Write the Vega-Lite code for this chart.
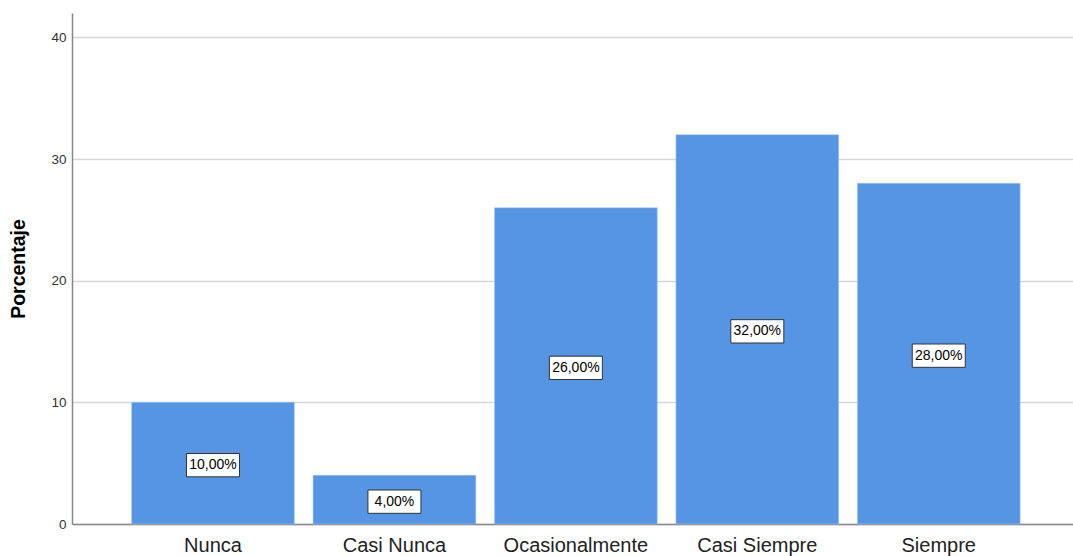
{
  "$schema": "https://vega.github.io/schema/vega-lite/v6.json",
  "width": 1001,
  "height": 511,
  "autosize": "none",
  "padding": {"left": 72, "top": 13, "right": 0, "bottom": 32},
  "background": "white",
  "config": {"view": {"stroke": null}, "font": "Liberation Sans"},
  "data": {
    "values": [
      {"cat": "Nunca", "pct": 10, "label": "10,00%"},
      {"cat": "Casi Nunca", "pct": 4, "label": "4,00%"},
      {"cat": "Ocasionalmente", "pct": 26, "label": "26,00%"},
      {"cat": "Casi Siempre", "pct": 32, "label": "32,00%"},
      {"cat": "Siempre", "pct": 28, "label": "28,00%"}
    ]
  },
  "encoding": {
    "x": {
      "field": "cat",
      "type": "nominal",
      "sort": null,
      "scale": {"paddingInner": 0.103, "paddingOuter": 0.31, "align": 0.53},
      "axis": {
        "title": null,
        "labelAngle": 0,
        "labelFontSize": 20,
        "labelColor": "#222",
        "labelPadding": 11,
        "ticks": false,
        "domainColor": "#888",
        "domainWidth": 1.5,
        "grid": false
      }
    }
  },
  "layer": [
    {
      "mark": {"type": "bar", "color": "#5595E4", "stroke": "#a9c9f2", "strokeWidth": 0.5},
      "encoding": {
        "y": {
          "field": "pct",
          "type": "quantitative",
          "scale": {"domain": [0, 42], "nice": false},
          "axis": {
            "title": "Porcentaje",
            "titleFontSize": 19.5,
            "titleFontWeight": "bold",
            "titleColor": "#000",
            "titlePadding": 22,
            "values": [0, 10, 20, 30, 40],
            "labelFontSize": 13.5,
            "labelColor": "#333",
            "labelPadding": 6,
            "ticks": false,
            "domainColor": "#888",
            "domainWidth": 1.5,
            "grid": true,
            "gridColor": "#d6d6d6",
            "gridWidth": 1.5
          }
        }
      }
    },
    {
      "transform": [{"calculate": "datum.pct / 2", "as": "mid"}],
      "mark": {
        "type": "point",
        "shape": "M-1,-0.44H1V0.44H-1Z",
        "size": 2809,
        "filled": true,
        "fill": "white",
        "fillOpacity": 1,
        "stroke": "#333",
        "strokeWidth": 1,
        "opacity": 1,
        "yOffset": 2
      },
      "encoding": {
        "y": {"field": "mid", "type": "quantitative", "scale": {"domain": [0, 42], "nice": false}}
      }
    },
    {
      "transform": [{"calculate": "datum.pct / 2", "as": "mid"}],
      "mark": {"type": "text", "fontSize": 14, "color": "#000", "align": "center", "baseline": "middle", "yOffset": 2},
      "encoding": {
        "y": {"field": "mid", "type": "quantitative", "scale": {"domain": [0, 42], "nice": false}},
        "text": {"field": "label"}
      }
    }
  ]
}
